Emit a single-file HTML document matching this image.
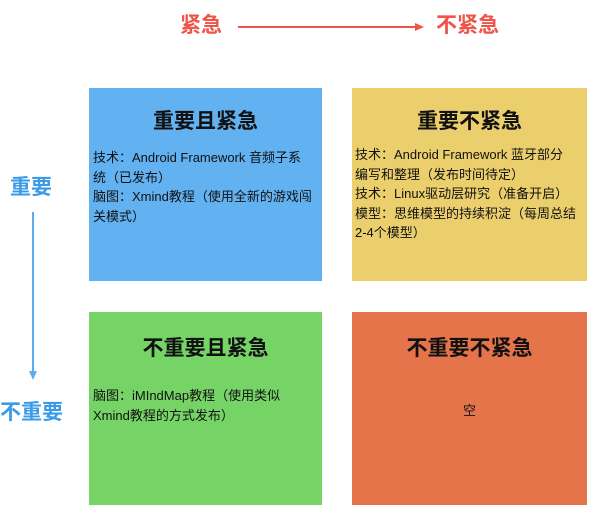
<!DOCTYPE html>
<html><head><meta charset="utf-8"><style>
body{margin:0;width:600px;height:519px;background:#fff;position:relative;overflow:hidden;font-family:"Liberation Sans","Noto Sans CJK SC",sans-serif}
.a{position:absolute}
.box{position:absolute;box-sizing:border-box}
.t{position:absolute;left:0;right:0;text-align:center;font-size:21px;font-weight:bold;color:#111}
.b{position:absolute;left:4px;right:0;font-size:13px;line-height:19.5px;color:#111;white-space:nowrap}
</style></head><body>
<div class="a" style="left:180px;top:9px;font-size:21px;color:#ef5448;font-weight:bold">紧急</div>
<div class="a" style="left:436px;top:9px;font-size:21px;color:#ef5448;font-weight:bold">不紧急</div>
<svg class="a" style="left:0;top:0" width="600" height="519">
<line x1="238" y1="27" x2="418" y2="27" stroke="#ef5448" stroke-width="2"/>
<polygon points="424,27 415,23 415,31" fill="#ef5448"/>
<line x1="33" y1="212" x2="33" y2="372" stroke="#5aaef0" stroke-width="2"/>
<polygon points="33,380 29,371 37,371" fill="#5aaef0"/>
</svg>
<div class="a" style="left:10px;top:171px;font-size:21px;color:#3a9be8;font-weight:bold">重要</div>
<div class="a" style="left:0px;top:396px;font-size:21px;color:#3a9be8;font-weight:bold">不重要</div>

<div class="box" style="left:89px;top:88px;width:233px;height:193px;background:#62b1f1">
<div class="t" style="top:17px">重要且紧急</div>
<div class="b" style="top:60px">技术：Android Framework 音频子系<br>统（已发布）<br>脑图：Xmind教程（使用全新的游戏闯<br>关模式）</div>
</div>
<div class="box" style="left:352px;top:88px;width:235px;height:193px;background:#ebcf6c">
<div class="t" style="top:17px">重要不紧急</div>
<div class="b" style="top:57px;left:3px">技术：Android Framework 蓝牙部分<br>编写和整理（发布时间待定）<br>技术：Linux驱动层研究（准备开启）<br>模型：思维模型的持续积淀（每周总结<br>2-4个模型）</div>
</div>
<div class="box" style="left:89px;top:312px;width:233px;height:193px;background:#76d466">
<div class="t" style="top:20px">不重要且紧急</div>
<div class="b" style="top:74px">脑图：iMIndMap教程（使用类似<br>Xmind教程的方式发布）</div>
</div>
<div class="box" style="left:352px;top:312px;width:235px;height:193px;background:#e5744b">
<div class="t" style="top:20px">不重要不紧急</div>
<div class="a" style="left:0;right:0;top:88px;text-align:center;font-size:13px;color:#111">空</div>
</div>
</body></html>
